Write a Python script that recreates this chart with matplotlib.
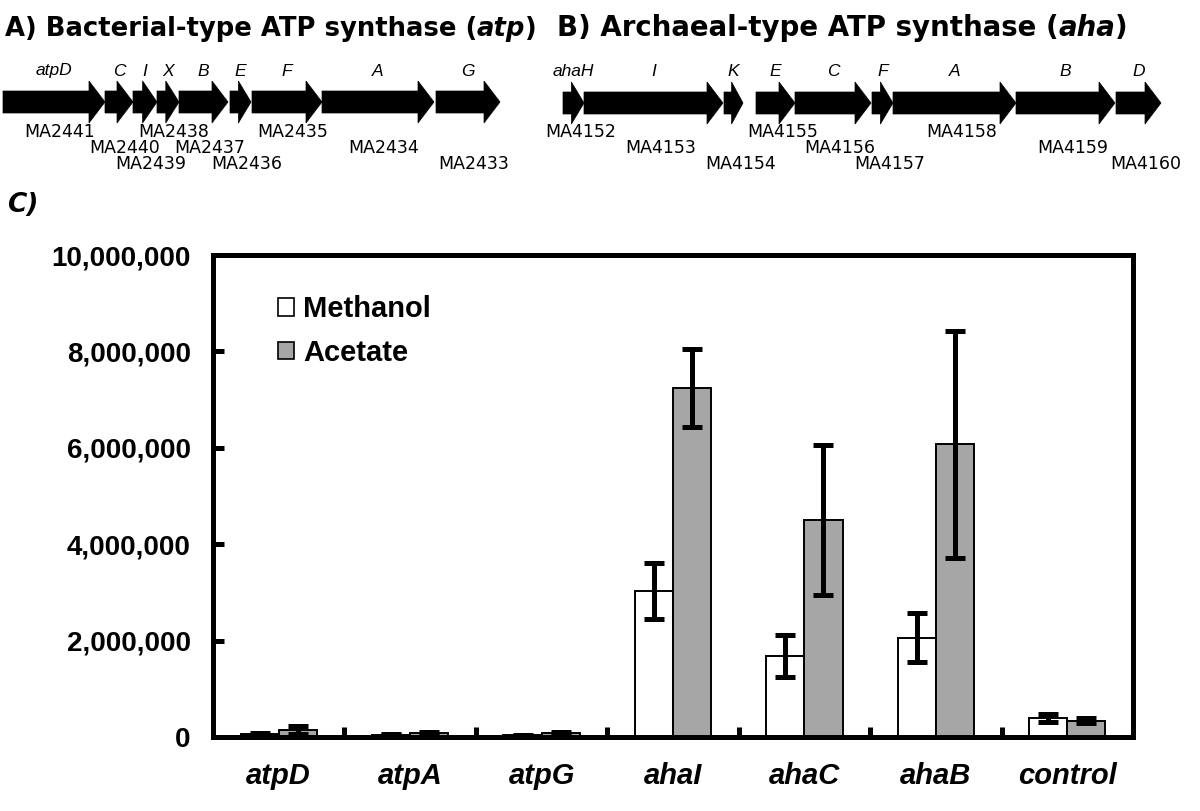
import matplotlib
matplotlib.use('Agg')
import matplotlib.pyplot as plt
import numpy as np
from matplotlib.patches import Polygon, Patch

# ---------------- data ----------------
categories = ['atpD', 'atpA', 'atpG', 'ahaI', 'ahaC', 'ahaB', 'control']
methanol = [70000, 50000, 40000, 3030000, 1680000, 2060000, 390000]
methanol_err = [20000, 10000, 10000, 590000, 440000, 510000, 80000]
acetate = [150000, 90000, 90000, 7250000, 4500000, 6070000, 340000]
acetate_err = [80000, 20000, 20000, 810000, 1550000, 2360000, 50000]
series_names = ['Methanol', 'Acetate']
yticks = [0, 2000000, 4000000, 6000000, 8000000, 10000000]

# operon maps (gene coordinates in figure pixels of the schematic)
atp_genes = ['atpD', 'C', 'I', 'X', 'B', 'E', 'F', 'A', 'G']
atp_ids = ['MA2441', 'MA2440', 'MA2439', 'MA2438', 'MA2437', 'MA2436', 'MA2435', 'MA2434', 'MA2433']
atp_start = [3, 105, 133, 157, 179, 230, 252, 322, 436]
atp_end = [105, 133, 157, 179, 228, 251, 322, 434, 500]

aha_genes = ['ahaH', 'I', 'K', 'E', 'C', 'F', 'A', 'B', 'D']
aha_ids = ['MA4152', 'MA4153', 'MA4154', 'MA4155', 'MA4156', 'MA4157', 'MA4158', 'MA4159', 'MA4160']
aha_start = [563, 584, 724, 756, 795, 872, 893, 1016, 1116]
aha_end = [584, 723, 743, 795, 871, 893, 1016, 1115, 1161]

W, H = 1200, 811
fig = plt.figure(figsize=(W / 100, H / 100), dpi=100)
fig.patch.set_facecolor('white')

over = fig.add_axes([0, 0, 1, 1])
over.set_xlim(0, W)
over.set_ylim(H, 0)
over.axis('off')

renderer = fig.canvas.get_renderer()


def draw_runs(ax, x, y, runs, target_w, family='DejaVu Sans'):
    base = 20
    texts = []
    for s, style in runs:
        t = ax.text(0, y, s, fontsize=base, fontweight='bold', style=style,
                    family=family, va='baseline', ha='left')
        texts.append(t)
    widths = [t.get_window_extent(renderer).width for t in texts]
    scale = target_w / sum(widths)
    cx = x
    for t, wdt in zip(texts, widths):
        t.set_fontsize(base * scale)
        t.set_x(cx)
        cx += wdt * scale


def draw_operon(ax, starts, ends, genes, ids, yc, id_offset):
    body, head, hl = 11, 21, 16
    rows = [132, 148, 164]
    for i, (x0, x1) in enumerate(zip(starts, ends)):
        h = min(hl, 0.6 * (x1 - x0))
        xs = x1 - h
        pts = [(x0, yc - body), (xs, yc - body), (xs, yc - head), (x1, yc),
               (xs, yc + head), (xs, yc + body), (x0, yc + body)]
        ax.add_patch(Polygon(pts, closed=True, fc='black', ec='black', lw=0.5))
        mid = (x0 + x1) / 2
        ax.text(mid, 71, genes[i], fontsize=12.5, style='italic',
                family='Liberation Sans', ha='center', va='center')
        ax.text(mid + id_offset, rows[i % 3], ids[i], fontsize=12.5,
                family='DejaVu Sans', ha='center', va='center')


draw_runs(over, 5, 36, [('A) Bacterial-type ATP synthase (', 'normal'), ('atp', 'italic'), (')', 'normal')], 532)
draw_runs(over, 557, 36, [('B) Archaeal-type ATP synthase (', 'normal'), ('aha', 'italic'), (')', 'normal')], 571)
over.text(7, 212, 'C)', fontsize=19, fontweight='bold', style='italic',
          family='DejaVu Sans', va='baseline', ha='left')

draw_operon(over, atp_start, atp_end, atp_genes, atp_ids, 102, 6)
draw_operon(over, aha_start, aha_end, aha_genes, aha_ids, 103, 7)

# ---------------- bar chart ----------------
ax = fig.add_axes([213 / W, (H - 737) / H, 920 / W, 482 / H])
ax.set_facecolor('none')
x = np.arange(len(categories)) + 0.5
w = 0.29
ekw = dict(ecolor='black', elinewidth=3.6, capsize=7.5, capthick=3.6)
ax.bar(x - w / 2, methanol, w, color='white', edgecolor='black', linewidth=1.4,
       yerr=methanol_err, error_kw=ekw, zorder=2)
ax.bar(x + w / 2, acetate, w, color='#a6a6a6', edgecolor='black', linewidth=1.4,
       yerr=acetate_err, error_kw=ekw, zorder=2)

ax.set_xlim(0, len(categories))
ax.set_ylim(0, 10000000)
for sp in ax.spines.values():
    sp.set_linewidth(3.6)

ax.set_xticks(np.arange(1, len(categories)))
ax.set_xticklabels([])
ax.set_xticks(x, minor=True)
ax.set_xticklabels(categories, minor=True, fontsize=21, fontweight='bold',
                   style='italic', family='Liberation Sans')
ax.tick_params(axis='x', which='major', direction='in', length=7, width=3.6)
ax.tick_params(axis='x', which='minor', length=0, pad=18)

ax.set_yticks(yticks)
ax.set_yticklabels([f'{v:,}' for v in yticks], fontsize=20, fontweight='bold',
                   family='Liberation Sans')
ax.tick_params(axis='y', direction='in', length=8, width=3.6, pad=16)

handles = [Patch(facecolor='white', edgecolor='black', linewidth=1.2),
           Patch(facecolor='#a6a6a6', edgecolor='black', linewidth=1.2)]
ax.legend(handles, series_names, loc='upper left',
          bbox_to_anchor=((278 - 213) / 920, 0.916), frameon=False,
          borderpad=0, borderaxespad=0, handlelength=0.55, handleheight=0.55,
          handletextpad=0.3, labelspacing=0.53,
          prop=dict(family='Liberation Sans', weight='bold', size=21))

fig.savefig('out.png', dpi=100)
